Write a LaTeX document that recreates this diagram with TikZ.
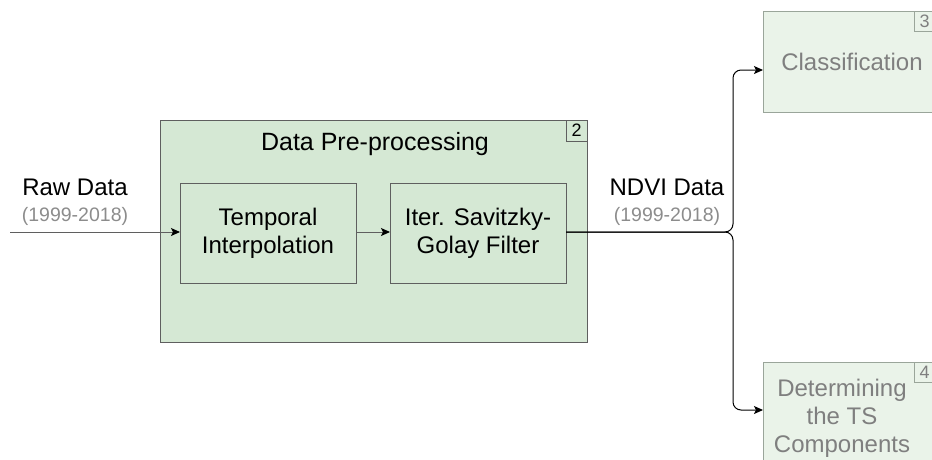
\documentclass[tikz,border=0pt]{standalone}
\usepackage{fontspec}
\setmainfont{Liberation Sans}
\usetikzlibrary{arrows.meta}
\definecolor{boxfill}{HTML}{D5E8D4}
\definecolor{boxline}{HTML}{5F5F5F}
\definecolor{fadefill}{HTML}{EAF3E9}
\definecolor{fadeline}{HTML}{9AA59A}
\definecolor{fadetext}{HTML}{7F7F7F}
\definecolor{subtext}{HTML}{8C8C8C}
\tikzset{
  every node/.style={inner sep=0pt, outer sep=0pt},
  stage/.style={draw=boxline, fill=boxfill, line width=0.9pt},
  fadestage/.style={draw=fadeline, fill=fadefill, line width=0.9pt},
  badge/.style={draw=boxline, line width=0.8pt, font=\fontsize{18}{18}\selectfont},
  fadebadge/.style={draw=fadeline, line width=0.8pt, font=\fontsize{18}{18}\selectfont, text=fadetext},
  bigtext/.style={font=\fontsize{24}{28}\selectfont, align=center},
  titletext/.style={font=\fontsize{25}{28}\selectfont},
  smalltext/.style={font=\fontsize{19.5}{22}\selectfont, text=subtext},
  flow/.style={line width=1pt, -{Stealth[length=9pt,width=8pt,inset=2pt,color=black]}},
  link/.style={flow, rounded corners=8pt},
}
\begin{document}
\begin{tikzpicture}[x=1pt, y=-1pt]
\useasboundingbox (0,0) rectangle (932,459);

% pre-processing stage
\path[stage] (160,120) rectangle (587,342);
\node[badge, minimum width=21pt, minimum height=21pt, anchor=north east] (b2) at (587,120) {2};
\node[titletext] (pre) at (375,144) {Data Pre-processing};

\node[stage, bigtext, minimum width=176pt, minimum height=100pt] (interp) at (268,233)
  {Temporal\\Interpolation};
\node[stage, bigtext, minimum width=176pt, minimum height=100pt] (sg) at (478,233)
  {Iter. Savitzky-\\Golay Filter};

% later stages
\path[fadestage] (763,11) rectangle (940,112);
\node[fadebadge, minimum width=21pt, minimum height=20pt, anchor=north west] (b3) at (914,11) {3};
\node[bigtext, text=fadetext] (cls) at (852,62) {Classification};

\path[fadestage] (763,362) rectangle (940,470);
\node[fadebadge, minimum width=21pt, minimum height=20pt, anchor=north west] (b4) at (914,362) {4};
\node[bigtext, text=fadetext, align=center] (ts) at (842,418) {Determining\\the TS\\Components};

\coordinate (clsin) at (763,70);
\coordinate (tsin) at (763,410);
\coordinate (split) at (733,232);
\coordinate (src) at (10,232);

% labels
\node[bigtext] (raw) at (75,187) {Raw Data};
\node[smalltext] (rawyr) at (75,216) {(1999-2018)};
\node[bigtext] (ndvi) at (667,187) {NDVI Data};
\node[smalltext] (ndviyr) at (667,216) {(1999-2018)};

% connectors
\draw[flow, draw=boxline] (src) -- (interp.west |- src);
\draw[flow, draw=boxline] (interp.east |- src) -- (sg.west |- src);
\draw[link] (sg.east |- split) -- (split) -- (split |- clsin) -- (clsin);
\draw[link] (sg.east |- split) -- (split) -- (split |- tsin) -- (tsin);
\end{tikzpicture}
\end{document}
